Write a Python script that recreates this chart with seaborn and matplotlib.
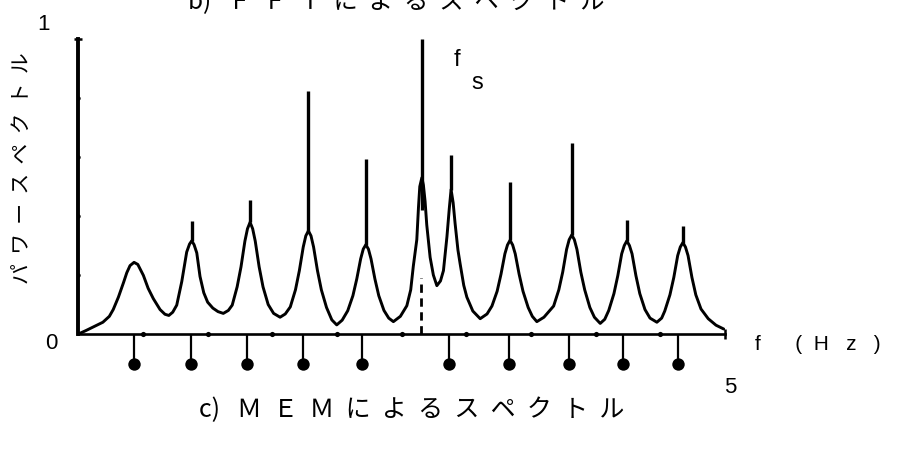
import matplotlib
matplotlib.use("Agg")
import matplotlib.pyplot as plt
import pandas as pd
import seaborn as sns

# ---- MEM spectrum (continuous curve) ----
mem_freq = [0.00, 0.06, 0.12, 0.19, 0.24, 0.27, 0.31, 0.35, 0.375, 0.40, 0.431, 0.46, 0.503, 0.54, 0.58,
            0.632, 0.67, 0.70, 0.73, 0.761, 0.80, 0.838, 0.86, 0.877, 0.895, 0.916, 0.941, 0.97, 1.00,
            1.04, 1.08, 1.121, 1.16, 1.19, 1.228, 1.258, 1.288, 1.308, 1.328, 1.348, 1.368, 1.398, 1.428,
            1.468, 1.51, 1.56, 1.60, 1.639, 1.679, 1.709, 1.739, 1.759, 1.779, 1.799, 1.819, 1.849, 1.879,
            1.919, 1.96, 1.998, 2.04, 2.083, 2.123, 2.153, 2.183, 2.203, 2.223, 2.243, 2.263, 2.293, 2.323,
            2.363, 2.40, 2.436, 2.49, 2.54, 2.57, 2.59, 2.617, 2.63, 2.64, 2.656, 2.668, 2.681, 2.694, 2.72,
            2.745, 2.772, 2.80, 2.823, 2.85, 2.868, 2.882, 2.898, 2.913, 2.935, 2.952, 2.98, 3.004, 3.05,
            3.107, 3.16, 3.198, 3.238, 3.268, 3.298, 3.318, 3.338, 3.358, 3.378, 3.408, 3.438, 3.478, 3.51,
            3.545, 3.60, 3.675, 3.715, 3.745, 3.775, 3.795, 3.815, 3.835, 3.855, 3.885, 3.915, 3.955, 3.99,
            4.035, 4.07, 4.101, 4.141, 4.171, 4.201, 4.221, 4.241, 4.261, 4.281, 4.311, 4.341, 4.381, 4.42,
            4.473, 4.51, 4.534, 4.574, 4.604, 4.634, 4.654, 4.674, 4.694, 4.714, 4.744, 4.774, 4.814, 4.87,
            4.93, 4.99]
mem_power = [0.000, 0.012, 0.025, 0.040, 0.060, 0.083, 0.125, 0.175, 0.208, 0.232, 0.243, 0.236, 0.199, 0.155, 0.120,
             0.083, 0.067, 0.063, 0.074, 0.098, 0.178, 0.278, 0.305, 0.316, 0.303, 0.275, 0.195, 0.140, 0.108,
             0.088, 0.076, 0.070, 0.080, 0.098, 0.160, 0.228, 0.315, 0.357, 0.379, 0.357, 0.315, 0.228, 0.160,
             0.100, 0.070, 0.057, 0.068, 0.092, 0.150, 0.215, 0.295, 0.333, 0.350, 0.333, 0.295, 0.215, 0.150,
             0.090, 0.048, 0.031, 0.047, 0.079, 0.130, 0.187, 0.255, 0.288, 0.303, 0.288, 0.255, 0.187, 0.130,
             0.080, 0.054, 0.042, 0.060, 0.096, 0.150, 0.230, 0.320, 0.430, 0.500, 0.530, 0.505, 0.450, 0.370, 0.260,
             0.200, 0.164, 0.180, 0.215, 0.330, 0.425, 0.490, 0.445, 0.375, 0.285, 0.238, 0.165, 0.125, 0.078,
             0.052, 0.068, 0.095, 0.145, 0.203, 0.272, 0.302, 0.318, 0.302, 0.272, 0.203, 0.145, 0.090, 0.060,
             0.042, 0.057, 0.095, 0.150, 0.210, 0.287, 0.320, 0.336, 0.320, 0.287, 0.210, 0.150, 0.090, 0.057,
             0.036, 0.050, 0.080, 0.137, 0.198, 0.272, 0.300, 0.316, 0.300, 0.272, 0.198, 0.137, 0.083, 0.054,
             0.040, 0.054, 0.078, 0.133, 0.192, 0.266, 0.295, 0.310, 0.295, 0.266, 0.192, 0.133, 0.085, 0.052,
             0.030, 0.017]

# ---- FFT line spectrum (spikes rising above the MEM peaks) ----
fft_freq = [0.877, 1.328, 1.779, 2.223, 2.660, 2.882, 3.338, 3.815, 4.241, 4.674]
fft_base = [0.316, 0.379, 0.350, 0.303, 0.420, 0.490, 0.318, 0.336, 0.316, 0.310]
fft_top = [0.384, 0.455, 0.824, 0.594, 1.000, 0.606, 0.515, 0.647, 0.385, 0.366]

# ---- component lines drawn below the axis ----
stem_freq = [0.433, 0.869, 1.302, 1.740, 2.192, 2.869, 3.326, 3.790, 4.210, 4.636]
stem_end = [-0.10, -0.10, -0.10, -0.10, -0.10, -0.10, -0.10, -0.10, -0.10, -0.10]

# ---- fs marker ----
fs_freq = [2.648]
fs_top = [0.19]

# ---- axis tick dots ----
x_tick_dots = [0.5, 1.0, 1.5, 2.0, 2.5, 3.0, 3.5, 4.0, 4.5]
y_tick_dots = [0.2, 0.4, 0.6, 0.8]

sns.set_theme(style="white")
plt.rcParams["font.family"] = ["Liberation Sans", "DejaVu Sans"]
JP = ["Noto Sans CJK JP", "DejaVu Sans"]

fig = plt.figure(figsize=(9, 4.57), dpi=100)
ax = fig.add_axes([0.087, 0.140, 0.7186, 0.839])
ax.set_xlim(0, 5)
ax.set_ylim(-0.2, 1.1)

mem = pd.DataFrame({"f": mem_freq, "p": mem_power})
sns.lineplot(data=mem, x="f", y="p", sort=False, estimator=None, color="black",
             linewidth=2.1, ax=ax, zorder=3)

ax.vlines(fft_freq, fft_base, fft_top, color="black", linewidth=2.4, zorder=4)

ax.vlines(stem_freq, 0, stem_end, color="black", linewidth=1.6, zorder=3)
sns.scatterplot(x=stem_freq, y=stem_end, color="black", s=80, edgecolor="black",
                linewidth=0, ax=ax, zorder=4, clip_on=False)

ax.vlines(fs_freq, 0, fs_top, color="black", linewidth=2.0, linestyles=(0, (3, 2)), zorder=3)

sns.scatterplot(x=x_tick_dots, y=[0] * len(x_tick_dots), color="black", s=14, linewidth=0, ax=ax, zorder=5)
sns.scatterplot(x=[0] * len(y_tick_dots), y=y_tick_dots, color="black", s=10, linewidth=0, ax=ax, zorder=5)
ax.plot([5], [0], marker="|", markersize=7, color="black", markeredgewidth=1.8, clip_on=False)
ax.plot([0], [1], marker="_", markersize=6, color="black", markeredgewidth=1.8, clip_on=False)

for s in ["top", "right"]:
    ax.spines[s].set_visible(False)
ax.spines["left"].set_bounds(0, 1)
ax.spines["left"].set_linewidth(2.8)
ax.spines["left"].set_color("black")
ax.spines["bottom"].set_position(("data", 0))
ax.spines["bottom"].set_bounds(0, 5)
ax.spines["bottom"].set_linewidth(1.9)
ax.spines["bottom"].set_color("black")
ax.set_xticks([])
ax.set_yticks([])
ax.set_xlabel("")
ax.set_ylabel("")

# tick-like labels
ax.text(-0.27, 1.05, "1", fontsize=16, ha="center", va="center", color="black")
ax.text(-0.211, -0.031, "0", fontsize=16, ha="center", va="center", color="black")
ax.text(5.039, -0.18, "5", fontsize=16, ha="center", va="center", color="black")
ax.text(5.232, -0.037, "f      (  H   z   )", fontsize=15, ha="left", va="center", color="black")
ax.text(2.93, 0.93, "f", fontsize=17, ha="center", va="center", color="black")
ax.text(3.085, 0.852, "s", fontsize=17, ha="center", va="center", color="black")
ax.text(-0.428, 0.563, "パ  ワ  ー  ス  ペ  ク  ト  ル", fontsize=15, family=JP, rotation=90,
        ha="center", va="center", color="black")

fig.text(412 / 900, 1 - 410 / 457, "c)   Ｍ  Ｅ  Ｍ  に  よ  る  ス  ペ  ク  ト  ル", fontsize=18, family=JP,
         ha="center", va="center", color="black")
fig.text(396 / 900, 1 - 9 / 457, "b)   Ｆ  Ｆ  Ｔ  に  よ  る  ス  ペ  ク  ト  ル", fontsize=17.5, family=JP,
         ha="center", va="baseline", color="black")

fig.savefig("out.png", dpi=100)
